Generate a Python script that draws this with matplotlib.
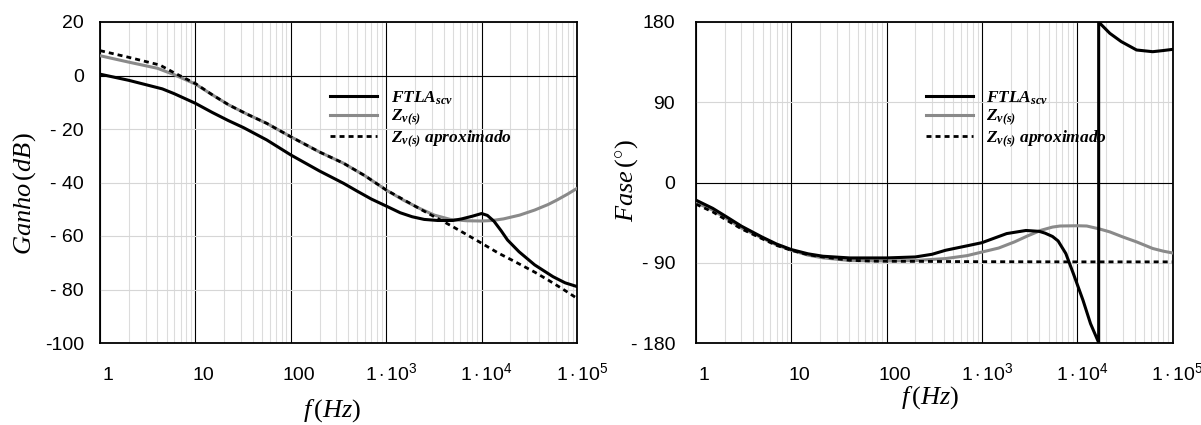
import numpy as np
import matplotlib
matplotlib.use("Agg")
import matplotlib.pyplot as plt
from matplotlib.ticker import LogLocator, FixedLocator, NullFormatter
from matplotlib.transforms import ScaledTranslation

# ---- Gain (dB) ----
f_gain_ftla = [1, 2, 4.5, 6, 10, 15, 22, 32, 56, 100, 200, 357, 500, 700, 1000,
               1400, 1870, 2500, 3470, 5000, 6200, 8000, 1.0e4, 1.15e4, 1.35e4,
               1.6e4, 1.87e4, 2.47e4, 3.6e4, 5.6e4, 7.5e4, 1.0e5]
gain_ftla = [0.5, -1.8, -5.0, -6.8, -10.4, -13.8, -16.8, -19.5, -24.1, -29.7,
             -35.7, -40.3, -43.3, -46.2, -48.8, -51.3, -52.8, -53.8, -54.2,
             -54.2, -53.6, -52.6, -51.6, -52.3, -54.5, -58.0, -61.5, -65.9,
             -70.8, -75.2, -77.5, -78.9]

f_gain_zv = [1, 2, 4, 6, 10, 15, 22.4, 35, 56, 100, 200, 357, 600, 1000, 1500,
             2240, 3200, 4700, 7000, 1.0e4, 1.3e4, 1.7e4, 2.5e4, 3.6e4, 5.0e4,
             6.2e4, 8.0e4, 1.0e5]
gain_zv = [7.4, 5.0, 2.7, 0.3, -3.2, -7.2, -11.0, -14.5, -17.9, -22.9, -28.6,
           -32.8, -37.5, -42.8, -46.5, -49.7, -52.2, -53.8, -54.3, -54.4, -54.2,
           -53.6, -52.2, -50.3, -48.2, -46.5, -44.3, -42.2]

f_gain_aprox = [1, 2, 4.25, 6, 10, 15, 22.4, 35, 56, 100, 200, 357, 600, 1000,
                1500, 2240, 3200, 4700, 7000, 1.0e4, 1.5e4, 2.13e4, 3.6e4, 5.0e4,
                7.0e4, 1.0e5]
gain_aprox = [9.3, 6.8, 3.9, 1.0, -3.0, -7.2, -11.0, -14.5, -17.9, -22.9, -28.6,
              -32.8, -37.5, -42.8, -46.3, -49.8, -52.8, -56.0, -59.5, -62.7,
              -66.4, -69.2, -73.5, -76.5, -79.7, -83.3]

# ---- Phase (degrees) ----
f_phase_ftla = [1, 1.5, 2.1, 3, 4.9, 7, 10, 15, 21.5, 41, 100, 200, 300, 416,
                700, 1000, 1820, 2900, 4000, 4600, 5500, 6300, 7600, 9100,
                1.15e4, 1.38e4, 1.68e4, 1.68e4, 2.2e4, 2.9e4, 4.2e4, 6.2e4,
                8.0e4, 1.0e5]
phase_ftla = [-19.8, -29.0, -38.6, -49.0, -61.0, -69.0, -75.2, -80.0, -82.7,
              -84.6, -84.6, -83.5, -80.5, -76.0, -71.0, -67.5, -57.3, -53.8,
              -54.8, -56.8, -60.5, -65.5, -79.7, -102.0, -132.0, -158.3,
              -179.5, 180.0, 167.3, 158.0, 148.6, 146.7, 148.0, 149.3]

f_phase_zv = [1, 1.5, 2.1, 3, 4.9, 7, 10, 15, 21.5, 41, 100, 200, 416, 700,
              1000, 1500, 2200, 3000, 4200, 5500, 6600, 1.0e4, 1.26e4, 1.7e4,
              2.2e4, 3.0e4, 4.2e4, 6.2e4, 8.0e4, 1.0e5]
phase_zv = [-22.5, -31.0, -40.5, -51.0, -62.0, -70.0, -76.0, -81.5, -84.5,
            -87.5, -88.0, -87.5, -85.3, -82.0, -78.0, -73.5, -66.6, -60.0,
            -53.5, -50.0, -48.8, -48.5, -48.8, -52.0, -55.4, -61.0, -66.6,
            -74.0, -77.0, -79.0]

f_phase_aprox = [1, 1.5, 2.1, 3, 4.9, 7, 10, 15, 21.5, 30, 41, 70, 100, 1000,
                 1.0e4, 1.0e5]
phase_aprox = [-24.3, -33.0, -42.3, -52.0, -62.9, -70.5, -76.0, -81.0, -83.5,
               -85.5, -87.2, -88.2, -88.3, -88.8, -89.0, -89.0]

# ---- Axis ticks ----
x_ticks = [1, 10, 100, 1e3, 1e4, 1e5]
x_tick_labels = ["1", "10", "100", r"$\mathsf{1\cdot10^{3}}$",
                 r"$\mathsf{1\cdot10^{4}}$", r"$\mathsf{1\cdot10^{5}}$"]
gain_ticks = [20, 0, -20, -40, -60, -80, -100]
gain_tick_labels = ["20", "0", "- 20", "- 40", "- 60", "- 80", "-100"]
phase_ticks = [180, 90, 0, -90, -180]
phase_tick_labels = ["180", "90", "0", "- 90", "- 180"]

legend_labels = [r"$\mathbfit{FTLA}_{\mathbfit{scv}}$",
                 r"$\mathbfit{Z}_{\mathbfit{v(s)}}$",
                 r"$\mathbfit{Z}_{\mathbfit{v(s)}}\ \mathbfit{aproximado}$"]

plt.rcParams.update({
    "font.family": "Liberation Sans",
    "mathtext.fontset": "custom",
    "mathtext.rm": "Liberation Serif",
    "mathtext.it": "Liberation Serif:italic",
    "mathtext.bf": "Liberation Serif:bold",
    "mathtext.bfit": "Liberation Serif:bold:italic",
    "mathtext.sf": "Liberation Sans",
})

GREY = "#8a8a8a"
W, H = 1201, 425
fig = plt.figure(figsize=(W / 100, H / 100), dpi=100)
ax1 = fig.add_axes([100 / W, 82 / H, 477 / W, 321 / H])
ax2 = fig.add_axes([696 / W, 82 / H, 476.5 / W, 321 / H])


def style_axes(ax, yticks, ylabels, ylim, ypad):
    ax.set_xscale("log")
    ax.set_xlim(1, 1e5)
    ax.set_ylim(*ylim)
    ax.xaxis.set_major_locator(FixedLocator(x_ticks))
    ax.xaxis.set_minor_locator(LogLocator(base=10, subs=range(2, 10)))
    ax.xaxis.set_minor_formatter(NullFormatter())
    ax.set_xticks(x_ticks, x_tick_labels)
    ax.set_yticks(yticks, ylabels)
    ax.set_axisbelow(True)
    ax.grid(which="minor", axis="x", color="#dcdcdc", lw=0.8)
    ax.grid(which="major", axis="x", color="black", lw=0.8)
    ax.grid(which="major", axis="y", color="#d6d6d6", lw=0.8)
    ax.axhline(0, color="black", lw=0.8, zorder=1)
    for sp in ax.spines.values():
        sp.set_linewidth(1.3)
        sp.set_color("black")
    ax.tick_params(which="both", length=0)
    ax.tick_params(axis="x", pad=26.6, labelsize=14)
    ax.tick_params(axis="y", pad=ypad, labelsize=14)
    for lab, t in zip(ax.get_xticklabels(), x_tick_labels):
        lab.set_va("baseline")
        dx = 3.6 if "cdot" in t else 5.8
        lab.set_transform(lab.get_transform() +
                          ScaledTranslation(dx / 72, 0, fig.dpi_scale_trans))


style_axes(ax1, gain_ticks, gain_tick_labels, (-100, 20), 11.5)
style_axes(ax2, phase_ticks, phase_tick_labels, (-180, 180), 15.1)


def draw(ax, fz, z, fa, a, ff, ft):
    lz, = ax.plot(fz, z, color=GREY, lw=2.2, zorder=3)
    la, = ax.plot(fa, a, color="black", lw=2.0, ls=(0, (1.8, 1.45)), zorder=4)
    lf, = ax.plot(ff, ft, color="black", lw=2.2, zorder=5)
    ax.legend([lf, lz, la], legend_labels, loc="upper left",
              bbox_to_anchor=(0.482, 0.79), frameon=False, fontsize=12.5,
              handlelength=2.7, handletextpad=0.8, labelspacing=0.05,
              borderpad=0, borderaxespad=0)


draw(ax1, f_gain_zv, gain_zv, f_gain_aprox, gain_aprox, f_gain_ftla, gain_ftla)
draw(ax2, f_phase_zv, phase_zv, f_phase_aprox, phase_aprox,
     f_phase_ftla, phase_ftla)

ax1.text(-0.159, 0.466, r"$Ganho\,(dB)$", transform=ax1.transAxes,
         rotation=90, ha="center", va="center", fontsize=19)
ax1.text(0.487, -0.209, r"$f\,(Hz)$", transform=ax1.transAxes,
         ha="center", va="center", fontsize=19)
ax2.text(-0.145, 0.505, r"$Fase\,(^{\circ})$", transform=ax2.transAxes,
         rotation=90, ha="center", va="center", fontsize=19)
ax2.text(0.491, -0.170, r"$f\,(Hz)$", transform=ax2.transAxes,
         ha="center", va="center", fontsize=19)

fig.savefig("out.png", dpi=100)
